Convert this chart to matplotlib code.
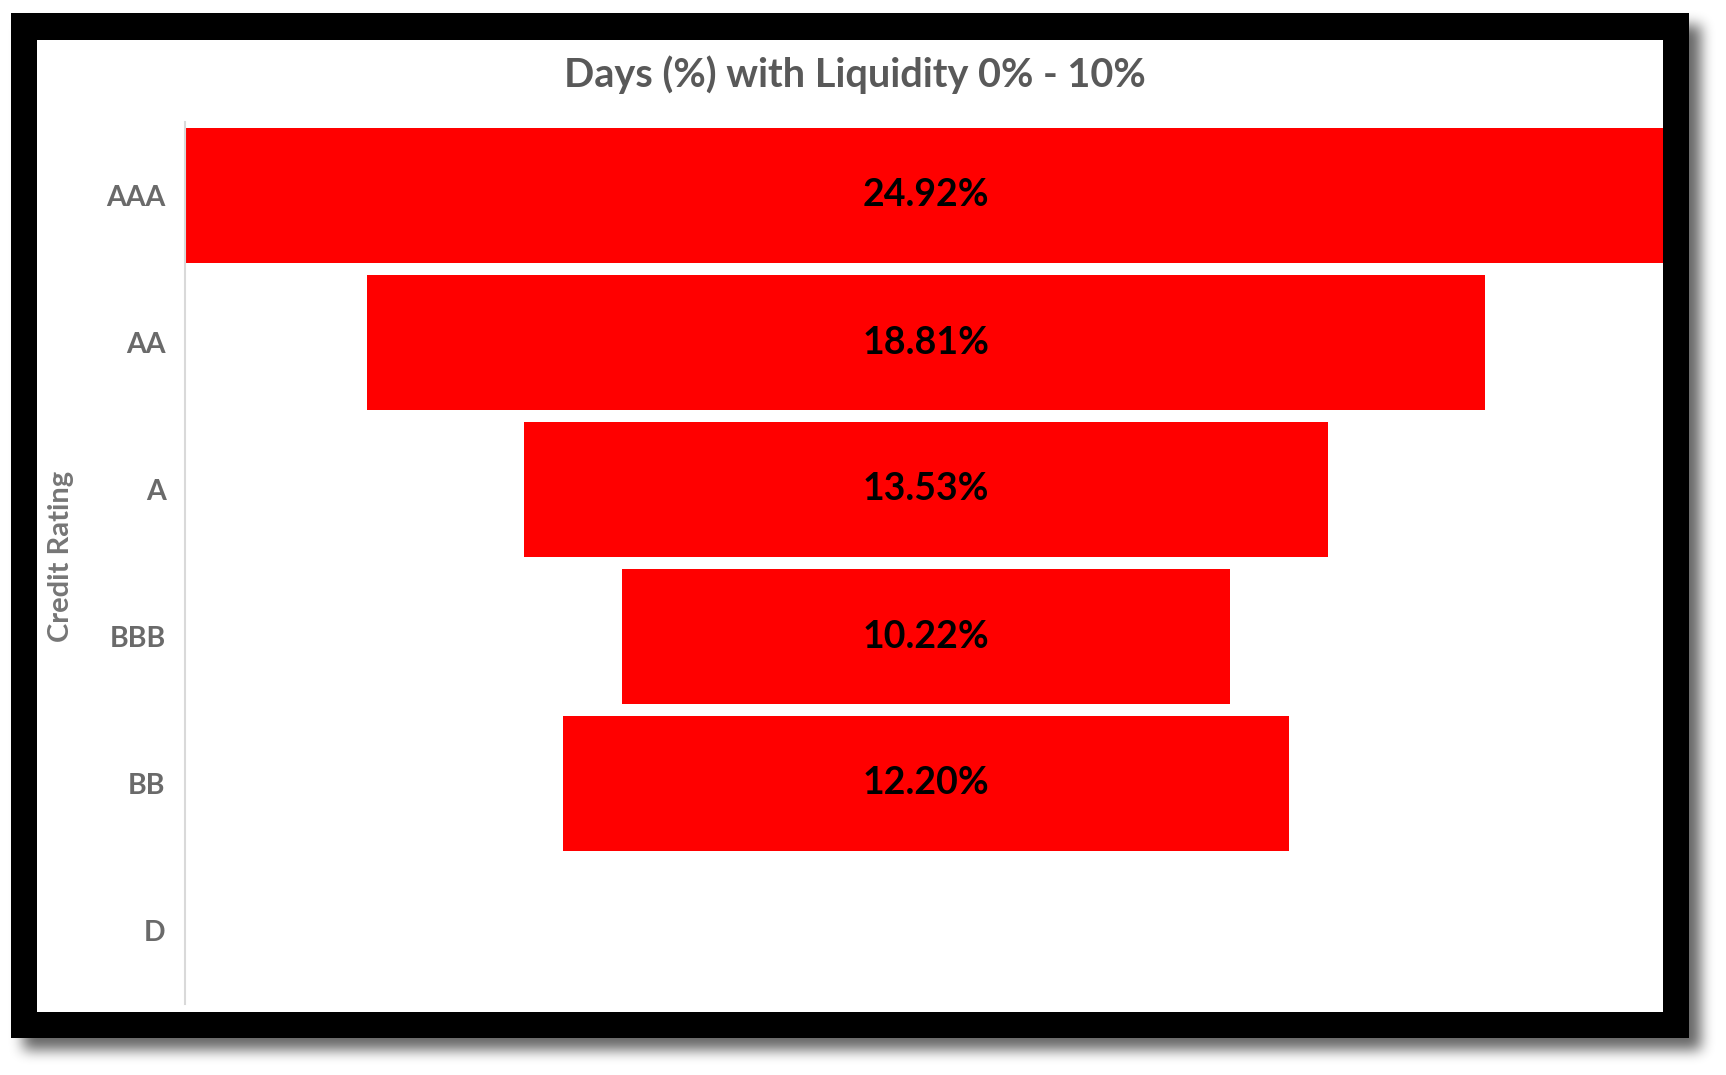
import numpy as np
import matplotlib
matplotlib.use('Agg')
import matplotlib.pyplot as plt
from matplotlib.patches import Rectangle

plt.rcParams['font.family'] = ['Lato', 'DejaVu Sans']

# --- data ---
categories = ['AAA', 'AA', 'A', 'BBB', 'BB', 'D']
values = [24.92, 18.81, 13.53, 10.22, 12.20, 0.0]
title = 'Days (%) with Liquidity 0% - 10%'
y_label = 'Credit Rating'

W, H = 1726, 1075
fig = plt.figure(figsize=(W / 100, H / 100), dpi=100)
fig.patch.set_facecolor('white')

# --- background: drop shadow + black frame + white chart area ---
bg = fig.add_axes([0, 0, 1, 1])
bg.set_xlim(0, W)
bg.set_ylim(H, 0)
bg.axis('off')

frame = (11, 13, 1689, 1038)   # x0, y0, x1, y1 in pixels
inner = (37, 40, 1663, 1012)

mask = np.zeros((H, W))
dx, dy = 12, 12
mask[frame[1] + dy:frame[3] + dy, frame[0] + dx:frame[2] + dx] = 1.0

def box_blur(a, r):
    k = np.ones(2 * r + 1) / (2 * r + 1)
    a = np.apply_along_axis(lambda m: np.convolve(m, k, mode='same'), 0, a)
    a = np.apply_along_axis(lambda m: np.convolve(m, k, mode='same'), 1, a)
    return a

for _ in range(3):
    mask = box_blur(mask, 6)

shadow = np.zeros((H, W, 4))
shadow[..., 3] = 0.6 * mask
bg.imshow(shadow, extent=(0, W, H, 0), interpolation='nearest', zorder=0)
bg.add_patch(Rectangle((frame[0], frame[1]), frame[2] - frame[0], frame[3] - frame[1],
                       facecolor='black', edgecolor='none', zorder=1))
bg.add_patch(Rectangle((inner[0], inner[1]), inner[2] - inner[0], inner[3] - inner[1],
                       facecolor='white', edgecolor='none', zorder=2))

# --- funnel plot ---
ax_l, ax_r, ax_t, ax_b = 185, 1663, 122, 1004
center_px = 926
ax = fig.add_axes([ax_l / W, 1 - ax_b / H, (ax_r - ax_l) / W, (ax_b - ax_t) / H])
ax.set_facecolor('none')

y = np.arange(len(categories))
vals = np.array(values)
ax.barh(y, vals, left=-vals / 2, height=0.92, color='#ff0000', edgecolor='none')

half = max(values) / 2
ax.set_xlim(-half, half * (ax_r - center_px) / (center_px - ax_l))
ax.set_ylim(len(categories) - 0.5, -0.5)

for yi, v in zip(y, values):
    if v > 0:
        ax.text(0, yi, f'{v:.2f}%', ha='center', va='center',
                fontsize=27, fontweight='bold', color='black')

ax.set_yticks(y)
ax.set_yticklabels(categories, fontsize=20.5, fontweight='bold', color='#6a6a6a')
ax.tick_params(axis='y', length=0, pad=14)
ax.set_xticks([])
for s in ['top', 'right', 'bottom']:
    ax.spines[s].set_visible(False)
ax.spines['left'].set_color('#d9d9d9')
ax.spines['left'].set_linewidth(1.5)

fig.text(61 / W, 1 - 556 / H, y_label, rotation=90, ha='center', va='center',
         fontsize=21, fontweight='bold', color='#767676')
fig.text(855 / W, 1 - 75 / H, title, ha='center', va='center',
         fontsize=28.5, fontweight='bold', color='#595959')

fig.savefig('out.png', dpi=100)
